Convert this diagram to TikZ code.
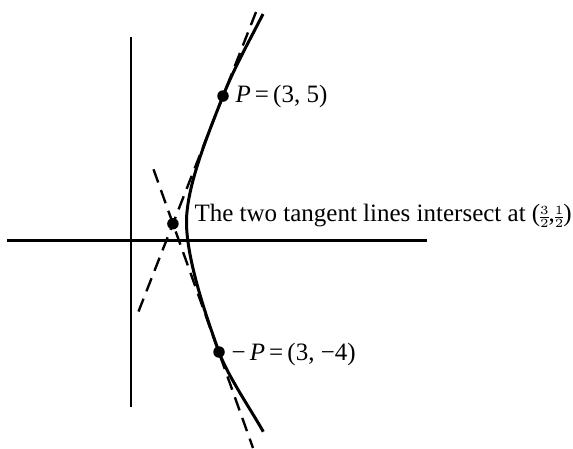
\documentclass[tikz,border=0pt]{standalone}
\usepackage{amsmath}
\usepackage{fontspec}
\setmainfont{Liberation Serif}
\usetikzlibrary{positioning, calc}

\newcommand{\smallfrac}[2]{{\nulldelimiterspace=0pt$\genfrac{}{}{0.3pt}{2}{#1}{#2}$}}

\begin{document}
\begin{tikzpicture}[
    x=0.4pt, y=-0.4pt,
    axisline/.style={line width=1.1pt},
    curveline/.style={line width=1.2pt},
    tangentline/.style={line width=0.95pt, dash pattern=on 5.6pt off 3.2pt},
    dotnode/.style={circle, fill=black, inner sep=0pt, minimum size=4.6pt},
    labelnode/.style={anchor=base west, inner sep=0pt, font=\fontsize{10}{12}\selectfont}
]
\useasboundingbox (0,0) rectangle (573,448);

% Axes
\coordinate (xl) at (7,240.7);
\coordinate (xr) at (427,240.7);
\coordinate (yt) at (131,37);
\coordinate (yb) at (131,407);
\draw[axisline] (xl) -- (xr);
\draw[axisline] (yt) -- (yb);

% Points on the curve
\coordinate (top) at (263,14);
\coordinate (P) at (223,96);
\coordinate (V) at (186.5,222);
\coordinate (mP) at (219,352);
\coordinate (bot) at (263.3,431.7);

% Curve
\draw[curveline] (top) .. controls (251.2,37.4) and (234,68.1) .. (P)
  .. controls (206.5,137.9) and (186.5,187) .. (V)
  .. controls (186.5,257) and (203.7,309.7) .. (mP)
  .. controls (227.5,375.5) and (251.1,410) .. (bot);

% Tangent lines
\coordinate (t1a) at (256,12);
\coordinate (t1b) at (138.5,311.5);
\coordinate (t2a) at (153.5,169.3);
\coordinate (t2b) at (253,448);
\draw[tangentline] (t1a) -- (t1b);
\draw[tangentline] (t2a) -- (t2b);
\coordinate (Q) at (intersection of t1a--t1b and t2a--t2b);

% Dots
\node[dotnode] (Pdot) at (P) {};
\node[dotnode] (mPdot) at (mP) {};
\node[dotnode] (Qdot) at (Q) {};

% Labels
\node[labelnode] (Plabel) at (235,102) {\textit{P}\,=\,(3,\ 5)};
\node[labelnode] (mPlabel) at (231,360) {−\,\textit{P}\,=\,(3,\ −4)};
\node[labelnode] (Qlabel) at (194,221.5) {The two tangent lines intersect at (\smallfrac{3}{2},\smallfrac{1}{2})};

\end{tikzpicture}
\end{document}
